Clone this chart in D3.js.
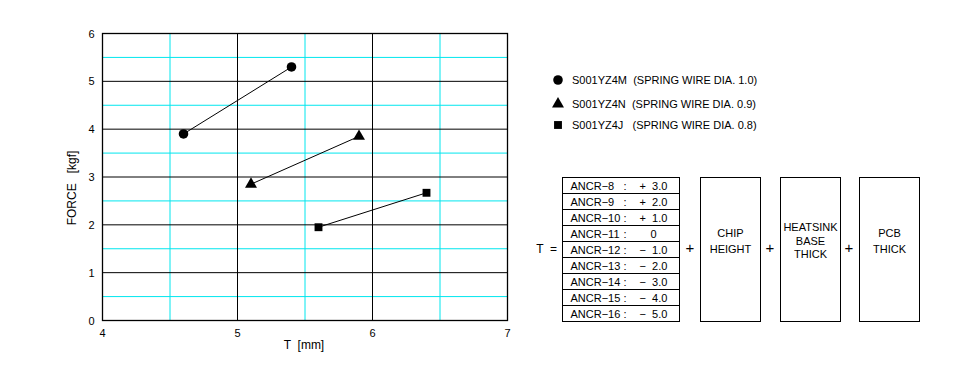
<!DOCTYPE html>
<html><head><meta charset="utf-8">
<script src="https://cdn.jsdelivr.net/npm/d3@7"></script>
<style>body{margin:0;background:#fff}svg{display:block}text{font-family:"Liberation Sans",Arial,sans-serif;fill:#000}</style>
</head><body><svg id="c" width="970" height="371"></svg>
<script>
const xTicks = [4, 5, 6, 7];
const yTicks = [0, 1, 2, 3, 4, 5, 6];
const xMinor = [4.5, 5.5, 6.5];
const yMinor = [0.5, 1.5, 2.5, 3.5, 4.5, 5.5];
const seriesNames = ["S001YZ4M  (SPRING WIRE DIA. 1.0)", "S001YZ4N  (SPRING WIRE DIA. 0.9)", "S001YZ4J   (SPRING WIRE DIA. 0.8)"];
const seriesSymbols = ["circle", "triangle", "square"];
const seriesT = [[4.6, 5.4], [5.1, 5.9], [5.6, 6.4]];
const seriesForce = [[3.9, 5.3], [2.85, 3.85], [1.95, 2.67]];
const xLabel = "T  [mm]";
const yLabel = "FORCE   [kgf]";
const tableLabels = ["ANCR\u22128", "ANCR\u22129", "ANCR\u221210", "ANCR\u221211", "ANCR\u221212", "ANCR\u221213", "ANCR\u221214", "ANCR\u221215", "ANCR\u221216"];
const tableValues = ["+  3.0", "+  2.0", "+  1.0", "0", "\u2212  1.0", "\u2212  2.0", "\u2212  3.0", "\u2212  4.0", "\u2212  5.0"];
const boxTexts = [["CHIP", "HEIGHT"], ["HEATSINK", "BASE", "THICK"], ["PCB", "THICK"]];

const svg = d3.select("#c");
const L = 102.5, R = 507.5, T = 33.5, B = 320.5;
const x = d3.scaleLinear().domain([4, 7]).range([L, R]);
const y = d3.scaleLinear().domain([0, 6]).range([B, T]);
const cyan = "#00e6ee";

const g = svg.append("g");
g.selectAll(".vm").data(xMinor).join("line").attr("x1", d => x(d)).attr("x2", d => x(d)).attr("y1", T).attr("y2", B).attr("stroke", cyan).attr("stroke-width", 1);
g.selectAll(".hm").data(yMinor).join("line").attr("y1", d => y(d)).attr("y2", d => y(d)).attr("x1", L).attr("x2", R).attr("stroke", cyan).attr("stroke-width", 1);
g.selectAll(".vM").data(xTicks).join("line").attr("x1", d => x(d)).attr("x2", d => x(d)).attr("y1", T).attr("y2", B).attr("stroke", "#000").attr("stroke-width", 1);
g.selectAll(".hM").data(yTicks).join("line").attr("y1", d => y(d)).attr("y2", d => y(d)).attr("x1", L).attr("x2", R).attr("stroke", "#000").attr("stroke-width", 1);
g.append("rect").attr("x", L).attr("y", T).attr("width", R - L).attr("height", B - T).attr("fill", "none").attr("stroke", "#000").attr("stroke-width", 1.3);

// axes tick labels
g.selectAll(".xt").data(xTicks).join("text").attr("x", d => x(d)).attr("y", B + 16).attr("text-anchor", "middle").attr("font-size", 11).text(d => d);
g.selectAll(".yt").data(yTicks).join("text").attr("x", L - 8).attr("y", d => y(d) + 4).attr("text-anchor", "end").attr("font-size", 11).text(d => d);
g.append("text").attr("x", 304).attr("y", 349).attr("text-anchor", "middle").attr("font-size", 12).attr("xml:space", "preserve").text(xLabel);
g.append("text").attr("transform", `translate(76,188) rotate(-90)`).attr("text-anchor", "middle").attr("font-size", 12).attr("xml:space", "preserve").text(yLabel);

const sym = {circle: d3.symbolCircle, triangle: d3.symbolTriangle, square: d3.symbolSquare};
const symSize = {circle: 72, triangle: 62, square: 62};
const line = d3.line().x(d => x(d[0])).y(d => y(d[1]));
seriesT.forEach((ts, i) => {
  const pts = ts.map((t, j) => [t, seriesForce[i][j]]);
  g.append("path").attr("d", line(pts)).attr("stroke", "#000").attr("stroke-width", 1).attr("fill", "none");
  g.selectAll(null).data(pts).join("path")
    .attr("d", d3.symbol().type(sym[seriesSymbols[i]]).size(symSize[seriesSymbols[i]]))
    .attr("transform", d => `translate(${x(d[0])},${y(d[1])})`).attr("fill", "#000");
});

// legend
const legY = [80, 104, 125];
seriesNames.forEach((n, i) => {
  svg.append("path").attr("d", d3.symbol().type(sym[seriesSymbols[i]]).size(symSize[seriesSymbols[i]])())
    .attr("transform", `translate(558,${legY[i]})`).attr("fill", "#000");
  svg.append("text").attr("x", 572).attr("y", legY[i] + 4).attr("font-size", 11).attr("xml:space", "preserve").text(n);
});

// table
const tX = 562.5, tW = 117, tTop = 177.5, rowH = 16;
const tb = svg.append("g");
tableLabels.forEach((lab, i) => {
  tb.append("rect").attr("x", tX).attr("y", tTop + i * rowH).attr("width", tW).attr("height", rowH).attr("fill", "none").attr("stroke", "#000").attr("stroke-width", 1);
  tb.append("text").attr("x", tX + 8).attr("y", tTop + i * rowH + 12).attr("font-size", 11).text(lab);
  tb.append("text").attr("x", tX + 61).attr("y", tTop + i * rowH + 12).attr("font-size", 11).text(":");
  tb.append("text").attr("x", tX + 91).attr("y", tTop + i * rowH + 12).attr("font-size", 11).attr("text-anchor", "middle").attr("xml:space", "preserve").text(tableValues[i]);
});
const tBot = tTop + tableLabels.length * rowH;
const midY = (tTop + tBot) / 2;
svg.append("text").attr("x", 557).attr("y", midY + 3).attr("font-size", 12).attr("text-anchor", "end").attr("xml:space", "preserve").text("T  =");
const boxX = [700.5, 780.5, 859.5];
const plusX = [690, 770, 849];
boxTexts.forEach((lines, i) => {
  svg.append("rect").attr("x", boxX[i]).attr("y", tTop).attr("width", 60).attr("height", tBot - tTop).attr("fill", "none").attr("stroke", "#000").attr("stroke-width", 1);
  svg.append("text").attr("x", plusX[i]).attr("y", midY + 3).attr("font-size", 15).attr("text-anchor", "middle").text("+");
  const lh = lines.length === 3 ? 13.5 : 16;
  lines.forEach((t, k) => {
    svg.append("text").attr("x", boxX[i] + 30).attr("y", midY - 5 + (k - (lines.length - 1) / 2) * lh).attr("font-size", 11).attr("text-anchor", "middle").text(t);
  });
});
</script></body></html>
